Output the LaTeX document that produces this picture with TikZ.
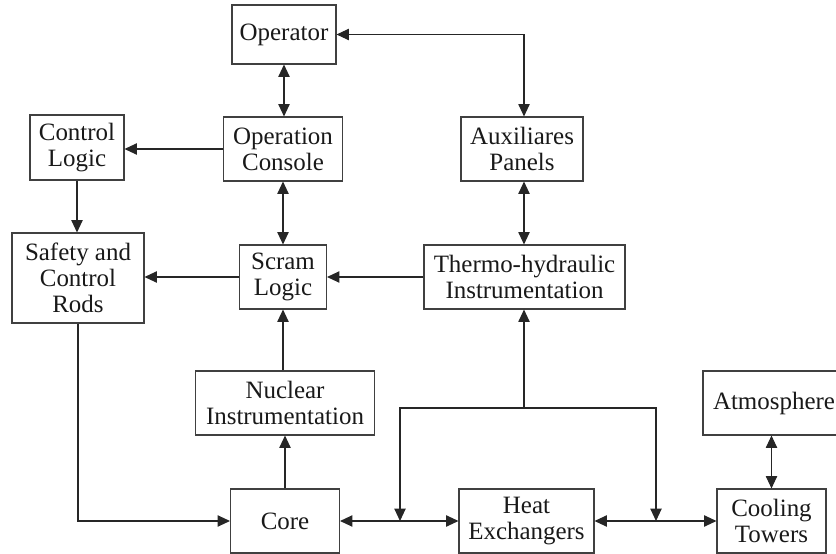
\documentclass[tikz,border=0pt]{standalone}
\usepackage{fontspec}
\setmainfont{Liberation Serif}
\usepackage{tikz}
\usetikzlibrary{arrows.meta}
\usetikzlibrary{positioning,calc}
\tikzset{
    block/.style={
        draw=black!75,
        line width=0.6pt,
        rectangle,
        fill=white,
        align=center,
        inner sep=0pt,
        text=black!90,
        font=\fontsize{14.2}{14.8}\selectfont
    },
    link/.style={
        draw=black!85,
        line width=0.65pt,
        -{Triangle[length=7pt, width=6.4pt]}
    },
    dlink/.style={
        link,
        {Triangle[length=7pt, width=6.4pt]}-{Triangle[length=7pt, width=6.4pt]}
    }
}

\begin{document}
\begin{tikzpicture}[x=0.02cm, y=-0.02cm]
    \useasboundingbox (0,0) rectangle (836,554);
    \begin{scope}
        \clip (0,0) rectangle (836,554);
        % Blocks
        \node[block, minimum width=104*0.02cm, minimum height=59*0.02cm] (Op) at (284,34.5) {Operator};
        \node[block, minimum width=119*0.02cm, minimum height=64*0.02cm] (Con) at (283,149) {Operation\\Console};
        \node[block, minimum width=94*0.02cm, minimum height=65*0.02cm] (Ctl) at (77,147.5) {Control\\Logic};
        \node[block, minimum width=122*0.02cm, minimum height=64*0.02cm] (Aux) at (522,149) {Auxiliares\\Panels};
        \node[block, minimum width=132*0.02cm, minimum height=90*0.02cm] (Rods) at (78,278) {Safety and\\Control\\Rods};
        \node[block, minimum width=87*0.02cm, minimum height=64*0.02cm] (Scram) at (283,277) {Scram\\Logic};
        \node[block, minimum width=201*0.02cm, minimum height=64*0.02cm] (Thermo) at (524.5,277) {Thermo-hydraulic\\Instrumentation};
        \node[block, minimum width=179*0.02cm, minimum height=64*0.02cm] (Nuc) at (285,403) {Nuclear\\Instrumentation};
        \node[block, minimum width=109*0.02cm, minimum height=64*0.02cm] (Core) at (285,521) {Core};
        \node[block, minimum width=135*0.02cm, minimum height=64*0.02cm] (Heat) at (526.5,521) {Heat\\Exchangers};
        \node[block, minimum width=109*0.02cm, minimum height=64*0.02cm] (Cool) at (771.5,521) {Cooling\\Towers};
        \node[block, minimum width=142*0.02cm, minimum height=64*0.02cm] (Atm) at (774,403) {Atmosphere};

        % Junction points
        \coordinate (J) at (524,408);
        \coordinate (JL) at (400,521);
        \coordinate (JR) at (656,521);

        % Connections
        \draw[dlink] (Op.east) -| (Aux.north -| J);
        \draw[dlink] (Op.south) -- (Op.south |- Con.north);
        \draw[link] (Con.west) -- (Con.west -| Ctl.east);
        \draw[link] (Ctl.south) -- (Ctl.south |- Rods.north);
        \draw[dlink] (Con.south) -- (Con.south |- Scram.north);
        \draw[dlink] (Aux.south -| J) -- (Thermo.north -| J);
        \draw[link] (Thermo.west) -- (Thermo.west -| Scram.east);
        \draw[link] (Scram.west) -- (Scram.west -| Rods.east);
        \draw[link] (Nuc.north -| Scram.south) -- (Scram.south);
        \draw[link] (Core.north) -- (Core.north |- Nuc.south);
        \draw[link] (Rods.south) |- (Core.west);
        \draw[dlink] (Core.east) -- (Heat.west);
        \draw[dlink] (Heat.east) -- (Cool.west);
        \draw[dlink] (Atm.south -| Cool.north) -- (Cool.north);
        \draw[link] (J) -- (J |- Thermo.south);
        \draw[link] (J) -| (JL);
        \draw[link] (J) -| (JR);
    \end{scope}
\end{tikzpicture}
\end{document}
